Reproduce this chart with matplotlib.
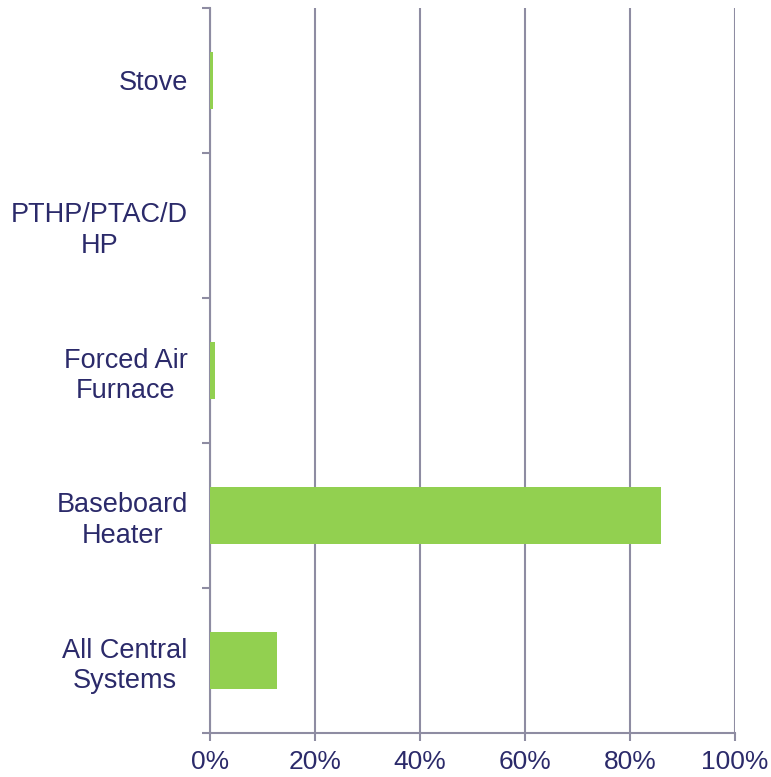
import matplotlib.pyplot as plt
import numpy as np
from matplotlib.ticker import FuncFormatter

plt.rcParams['font.family'] = ['Liberation Sans', 'DejaVu Sans']

categories = ["All Central\nSystems", "Baseboard\nHeater", "Forced Air\nFurnace",
              "PTHP/PTAC/D\nHP", "Stove"]
shares = [12.7, 85.9, 0.9, 0.0, 0.5]  # percent of homes
x_ticks = [0, 20, 40, 60, 80, 100]

text_col = "#2b2a6a"
grid_col = "#8e8ca2"
bar_col = "#92d050"

fig = plt.figure(figsize=(7.71, 7.77), dpi=100)
ax = fig.add_axes([210/771, 1-733/777, 525/771, 725/777])

y = np.arange(len(categories))
ax.barh(y, shares, height=0.39, color=bar_col, zorder=3)

ax.set_xlim(0, 100)
ax.set_ylim(-0.5, len(categories) - 0.5)
ax.set_xticks(x_ticks)
ax.xaxis.set_major_formatter(FuncFormatter(lambda v, p: "%d%%" % v))
ax.grid(axis='x', color=grid_col, linewidth=1.5, zorder=0)

ax.set_yticks(y)
ax.set_yticklabels(categories, multialignment='center', linespacing=1.22)
ax.set_yticks(np.arange(-0.5, len(categories)), minor=True)
ax.tick_params(axis='y', which='major', length=0, pad=16, labelsize=19.5, labelcolor=text_col)
ax.tick_params(axis='y', which='minor', length=6, width=1.5, color=grid_col)
ax.tick_params(axis='x', length=6, width=1.5, color=grid_col, labelsize=19,
               labelcolor=text_col, pad=6)

for s in ['top', 'right']:
    ax.spines[s].set_visible(False)
for s in ['left', 'bottom']:
    ax.spines[s].set_color(grid_col)
    ax.spines[s].set_linewidth(1.5)

fig.savefig("out.png", dpi=100)
